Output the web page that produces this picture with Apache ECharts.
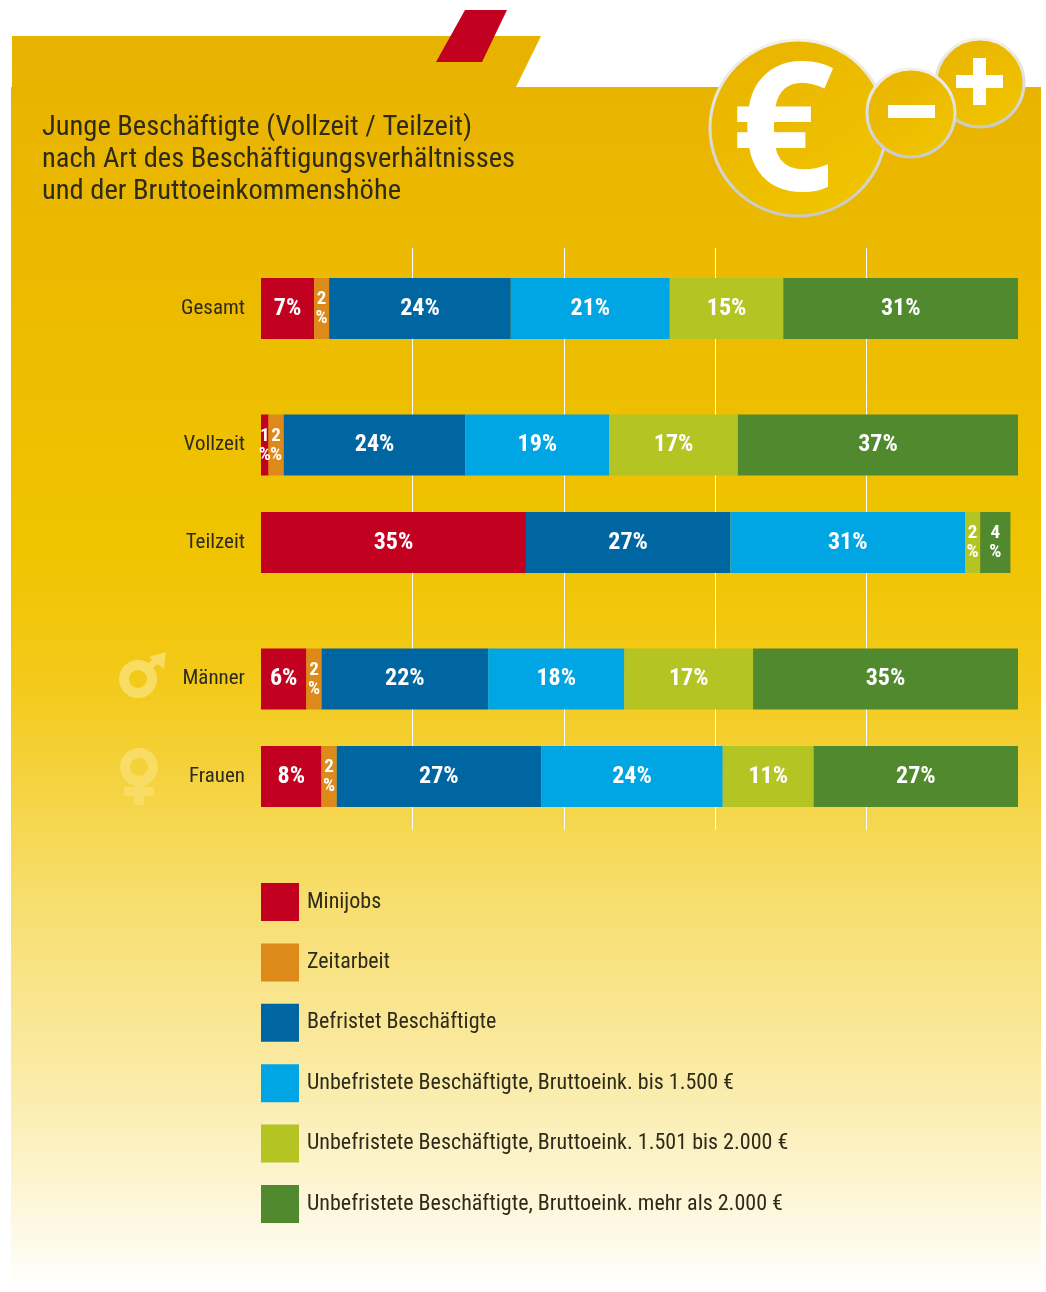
<!DOCTYPE html>
<html>
<head>
<meta charset="utf-8">
<title>Junge Beschäftigte</title>
<script src="https://cdn.jsdelivr.net/npm/echarts@6/dist/echarts.min.js"></script>
<style>
  html, body { margin: 0; padding: 0; background: #fff; }
  #main { width: 1046px; height: 1292px; }
</style>
</head>
<body>
<div id="main"></div>
<script>
// rows, '' = empty slot that makes the larger gap between the groups
var categories = ['Gesamt', '', '', '', '', '', '', 'Vollzeit', '', '', '', '', 'Teilzeit', '', '', '', '', '', '', 'Männer', '', '', '', '', 'Frauen'];
var rowNames = ['Gesamt', 'Vollzeit', 'Teilzeit', 'Männer', 'Frauen'];

var minijobs   = [7, 1, 35, 6, 8];
var zeitarbeit = [2, 2, 0, 2, 2];
var befristet  = [24, 24, 27, 22, 27];
var bis1500    = [21, 19, 31, 18, 24];
var bis2000    = [15, 17, 2, 17, 12];
var mehr2000   = [31, 37, 4, 35, 27];
// the Frauen bar is drawn 12 wide but printed as 11%
var bis2000Printed = [15, 17, 2, 17, 11];

var seriesNames = [
  'Minijobs',
  'Zeitarbeit',
  'Befristet Beschäftigte',
  'Unbefristete Beschäftigte, Bruttoeink. bis 1.500 €',
  'Unbefristete Beschäftigte, Bruttoeink. 1.501 bis 2.000 €',
  'Unbefristete Beschäftigte, Bruttoeink. mehr als 2.000 €'
];
var seriesColors = ['#c20020', '#dd8a1a', '#0066a1', '#00a5e3', '#b3c423', '#518a2e'];
var seriesValues = [minijobs, zeitarbeit, befristet, bis1500, bis2000, mehr2000];
var seriesPrinted = [minijobs, zeitarbeit, befristet, bis1500, bis2000Printed, mehr2000];

var font = '"Roboto Condensed", sans-serif';
var textColor = '#2f2b1c';
var symbolColor = '#f8dc63';

// spread one row-based list over the axis slots
function toSlots(list) {
  var out = [];
  categories.forEach(function (c) {
    var i = rowNames.indexOf(c);
    out.push(i >= 0 ? list[i] : '-');
  });
  return out;
}

function makeSeries(i) {
  var printed = toSlots(seriesPrinted[i]);
  return {
    name: seriesNames[i],
    type: 'bar',
    stack: 'total',
    barWidth: 61,
    clip: false,
    xAxisIndex: 0,
    yAxisIndex: 0,
    itemStyle: { color: seriesColors[i] },
    data: toSlots(seriesValues[i]),
    label: {
      show: true,
      position: 'inside',
      color: '#fff',
      fontFamily: font,
      fontWeight: 'bold',
      fontSize: 24,
      formatter: function (p) {
        var v = printed[p.dataIndex];
        if (!v) return '';
        return v < 5 ? '{small|' + v + '}\n{pct|%}' : v + '%';
      },
      rich: {
        small: { color: '#fff', fontFamily: font, fontWeight: 'bold', fontSize: 19, lineHeight: 20 },
        pct: { color: '#fff', fontFamily: font, fontSize: 19, lineHeight: 18 }
      }
    }
  };
}

var coinFill = {
  type: 'linear', x: 0, y: 0, x2: 0.7, y2: 1,
  colorStops: [{ offset: 0, color: '#e8b200' }, { offset: 1, color: '#f0c400' }]
};
var coinEdge = {
  type: 'linear', x: 0, y: 0, x2: 0, y2: 1,
  colorStops: [{ offset: 0, color: '#f2f1ec' }, { offset: 1, color: '#c9c9c6' }]
};

function coin(cx, cy, r) {
  return {
    type: 'circle',
    shape: { cx: cx, cy: cy, r: r },
    style: { fill: coinFill, stroke: coinEdge, lineWidth: 3 },
    z: 3
  };
}

function rect(x, y, w, h, fill, z) {
  return { type: 'rect', shape: { x: x, y: y, width: w, height: h }, style: { fill: fill }, z: z };
}

var option = {
  animation: false,
  textStyle: { fontFamily: font },
  title: {
    text: 'Junge Beschäftigte (Vollzeit / Teilzeit)\nnach Art des Beschäftigungsverhältnisses\nund der Bruttoeinkommenshöhe',
    left: 42,
    top: 112,
    padding: 0,
    textStyle: { fontFamily: font, fontWeight: 'normal', fontSize: 28.5, lineHeight: 32, color: textColor }
  },
  legend: {
    orient: 'vertical',
    left: 261,
    top: 883,
    padding: 0,
    icon: 'rect',
    itemWidth: 38,
    itemHeight: 38,
    itemGap: 22.4,
    selectedMode: false,
    data: seriesNames,
    textStyle: { fontFamily: font, fontSize: 22, color: textColor, padding: [2, 0, 0, 3] }
  },
  grid: [
    { left: 261, width: 757, top: 298.75, height: 487.5 },
    { left: 261, width: 757, top: 248, height: 582 }
  ],
  xAxis: [
    { type: 'value', gridIndex: 0, min: 0, max: 100, show: false },
    {
      type: 'value', gridIndex: 1, min: 0, max: 100, interval: 20,
      axisLine: { show: false }, axisTick: { show: false }, axisLabel: { show: false },
      splitLine: { show: true, showMinLine: false, showMaxLine: false, lineStyle: { color: '#fff', width: 1 } }
    }
  ],
  yAxis: [
    {
      type: 'category', gridIndex: 0, inverse: true, data: categories,
      axisLine: { show: false }, axisTick: { show: false },
      axisLabel: { interval: 0, margin: 16, fontFamily: font, fontSize: 21, color: textColor }
    },
    { type: 'value', gridIndex: 1, min: 0, max: 1, show: false, splitLine: { show: false } }
  ],
  series: seriesValues.map(function (v, i) { return makeSeries(i); }),
  graphic: { elements: [
    // gold page
    {
      type: 'polygon',
      shape: { points: [[12, 36], [541, 36], [516, 87], [1041, 87], [1041, 1292], [11, 1292], [11, 87], [12, 87]] },
      style: { fill: {
        type: 'linear', x: 0, y: 0, x2: 0, y2: 1,
        colorStops: [
          { offset: 0, color: '#e8b200' },
          { offset: 0.41, color: '#f0c400' },
          { offset: 0.52, color: '#f3ca1c' },
          { offset: 0.68, color: '#f7dd6a' },
          { offset: 0.85, color: '#fbedb0' },
          { offset: 1, color: '#ffffff' }
        ]
      } },
      z: -10
    },
    { type: 'polygon', shape: { points: [[465, 10], [507, 10], [482, 62], [436, 62]] }, style: { fill: '#c20020' }, z: -9 },
    // coins
    coin(798, 128, 88),
    { type: 'text', style: { x: 783, y: 139, text: '€', fill: '#fff', font: 'bold 180px "Noto Sans", sans-serif', textAlign: 'center', textVerticalAlign: 'middle' }, z: 4 },
    coin(980, 83, 44),
    rect(956, 75, 47, 13, '#fff', 4),
    rect(973, 58, 13, 47, '#fff', 4),
    coin(911, 113, 44),
    rect(888, 105, 47, 13, '#fff', 4),
    // male sign
    { type: 'circle', shape: { cx: 138, cy: 679, r: 14 }, style: { fill: 'none', stroke: symbolColor, lineWidth: 10 }, z: 1 },
    { type: 'line', shape: { x1: 149, y1: 667, x2: 160, y2: 657 }, style: { stroke: symbolColor, lineWidth: 7 }, z: 1 },
    { type: 'polygon', shape: { points: [[166, 652], [164, 669], [149, 657]] }, style: { fill: symbolColor }, z: 1 },
    // female sign
    { type: 'circle', shape: { cx: 139, cy: 767, r: 14 }, style: { fill: 'none', stroke: symbolColor, lineWidth: 10 }, z: 1 },
    rect(134, 785, 10, 20, symbolColor, 1),
    rect(124, 787, 30, 9, symbolColor, 1)
  ] }
};

var chart = echarts.init(document.getElementById('main'));
chart.setOption(option);
</script>
</body>
</html>
